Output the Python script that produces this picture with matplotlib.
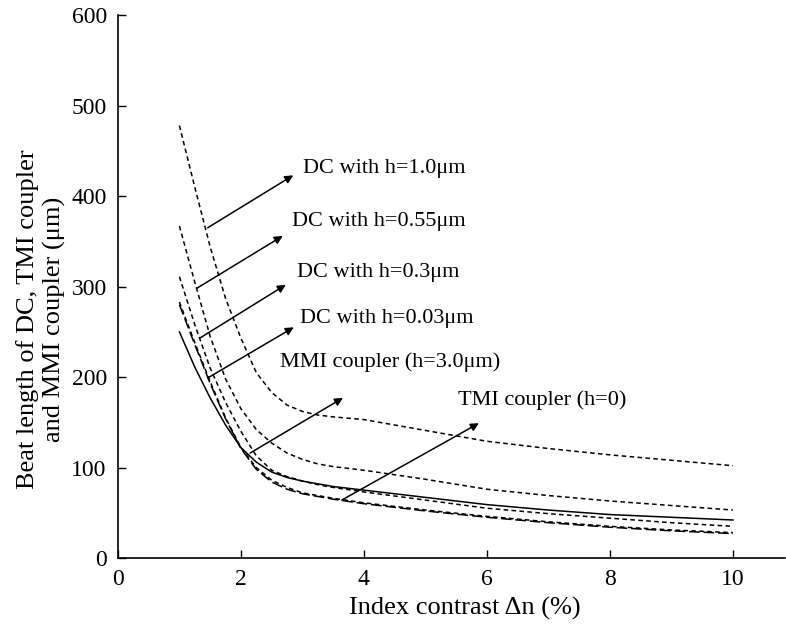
import matplotlib
matplotlib.use("Agg")
import matplotlib.pyplot as plt

plt.rcParams['font.family'] = ['Liberation Serif', 'DejaVu Serif']

# Index contrast (%)
dn = [1, 1.25, 1.5, 1.75, 2, 2.25, 2.5, 2.75, 3, 3.25, 3.5, 4, 5, 6, 7, 8, 9, 10]

dc_10 = [478, 410, 344, 287, 243, 205, 183, 169, 162, 158, 156, 153, 141, 129, 121, 114, 108, 102]
dc_055 = [367, 305, 245, 198, 165, 142, 127, 116, 109, 104, 101, 97, 87, 76, 69, 63, 58, 53]
dc_03 = [311, 258, 210, 172, 140, 113, 97, 90, 85, 81, 78, 73, 64, 55, 49, 44, 39, 35]
dc_003 = [283, 238, 195, 155, 122, 100, 86, 78, 72, 69, 66, 61, 53, 46, 40, 35, 31, 28]
tmi = [280, 236, 193, 154, 121, 98, 84, 76, 71, 68, 65, 60, 52, 45, 39, 34, 30, 27]
mmi = [250, 211, 177, 147, 122, 106, 95, 89, 85, 82, 79, 75, 67, 59, 53, 48, 45, 42]

labels = ["DC with h=1.0\u03bcm", "DC with h=0.55\u03bcm", "DC with h=0.3\u03bcm",
          "DC with h=0.03\u03bcm", "MMI coupler (h=3.0\u03bcm)", "TMI coupler (h=0)"]
arrow_start = [(1.46, 365), (1.28, 298), (1.33, 243), (1.46, 199), (2.15, 116), (3.64, 64)]
arrow_end = [(2.85, 423), (2.68, 356), (2.73, 302), (2.86, 255), (3.66, 177), (5.87, 149)]
text_pos = [(3.01, 431), (2.83, 372), (2.91, 316), (2.96, 265), (2.63, 217), (5.53, 175)]

fig = plt.figure(figsize=(7.86, 6.33), dpi=100)
ax = fig.add_axes([0.150, 0.1185, 0.849, 0.8575])

lw = 1.1
ax.plot(dn, dc_10, color='black', lw=lw, dashes=(3, 2.2))
ax.plot(dn, dc_055, color='black', lw=lw, dashes=(3, 2.2))
ax.plot(dn, dc_03, color='black', lw=lw, dashes=(3, 2.2))
ax.plot(dn, dc_003, color='black', lw=lw, dashes=(3, 2.2))
ax.plot(dn, tmi, color='black', lw=lw, dashes=(7, 2.5))
ax.plot(dn, mmi, color='black', lw=lw)

for lab, s, e, t in zip(labels, arrow_start, arrow_end, text_pos):
    ax.annotate('', xy=e, xytext=s,
                arrowprops=dict(arrowstyle='-|>', color='black', lw=1.1,
                                mutation_scale=12, shrinkA=0, shrinkB=0))
    ax.text(t[0], t[1], lab, fontsize=16, ha='left', va='center')

ax.set_xlim(0, 10.85)
ax.set_ylim(0, 600)
ax.set_xticks([0, 2, 4, 6, 8, 10])
ax.set_yticks([0, 100, 200, 300, 400, 500, 600])
ax.tick_params(direction='in', length=6, width=1, labelsize=17, pad=8)
for side in ['top', 'right']:
    ax.spines[side].set_visible(False)
for side in ['left', 'bottom']:
    ax.spines[side].set_linewidth(1.2)

ax.set_xlabel("Index contrast \u0394n (%)", fontsize=19)
ax.set_ylabel("Beat length of DC, TMI coupler\nand MMI coupler (\u03bcm)", fontsize=19,
              linespacing=1.2)
ax.xaxis.set_label_coords(0.52, -0.072)
ax.yaxis.set_label_coords(-0.078, 0.44)

fig.savefig("out.png", dpi=100)
